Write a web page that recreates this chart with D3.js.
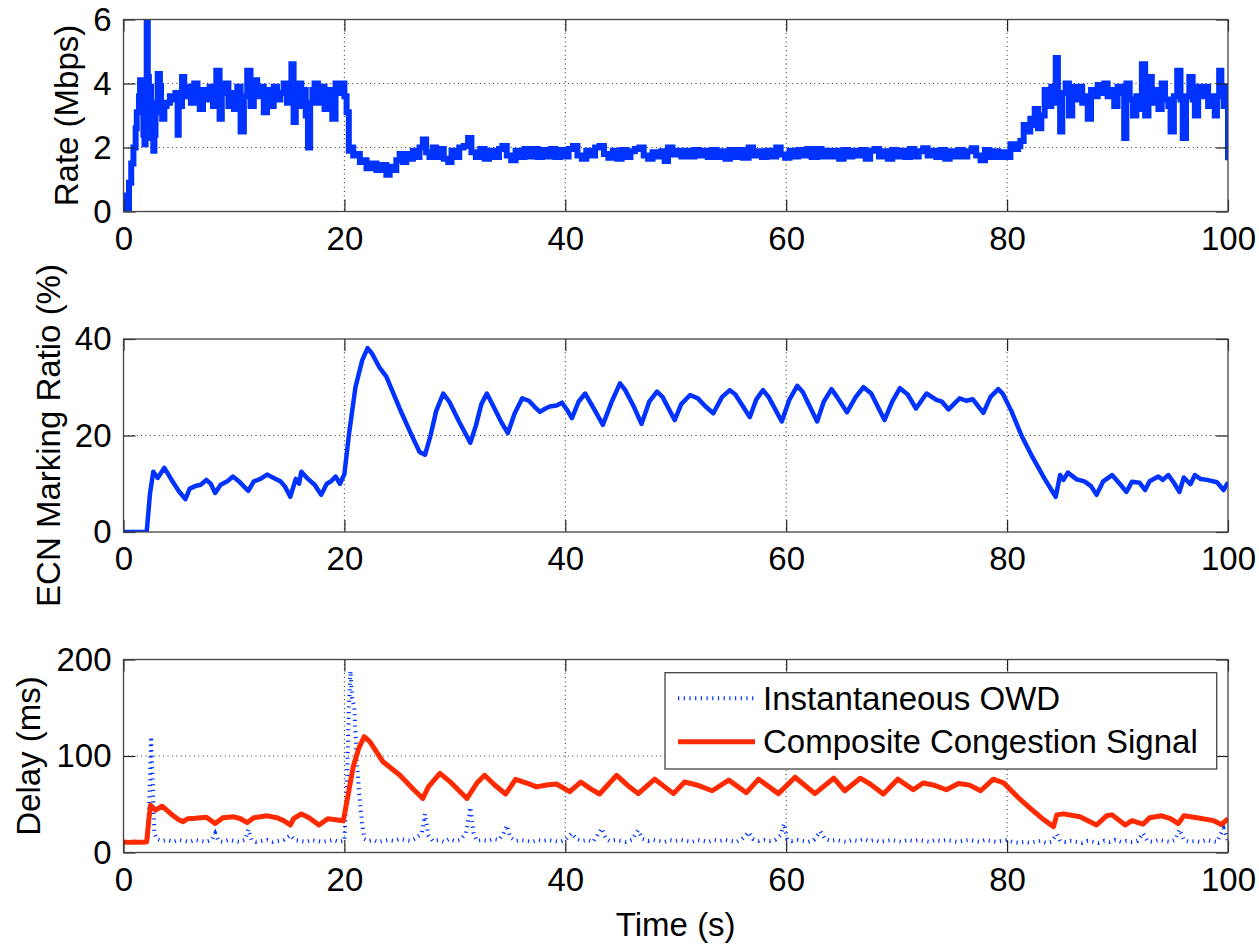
<!DOCTYPE html>
<html>
<head>
<meta charset="utf-8">
<script src="https://cdn.jsdelivr.net/npm/d3@7"></script>
<style>
  body { margin: 0; background: #fff; }
  svg { display: block; font-family: "Liberation Sans", Arial, Helvetica, sans-serif; }
</style>
</head>
<body>
<svg id="chart" width="1259" height="946"></svg>
<script>
// ---- data ----
const xTicks = [0, 20, 40, 60, 80, 100];
const rateTicks = [0, 2, 4, 6];
const ecnTicks = [0, 20, 40];
const delayTicks = [0, 100, 200];
const legendLabels = ["Instantaneous OWD", "Composite Congestion Signal"];

// sending rate (Mbps) : [time s, value]
const rateData = [
  [0,0],[0.1,0.5],[0.3,0],[0.5,0.9],[0.7,1.5],[0.9,2.0],[1.1,2.6],[1.2,3.1],[1.4,3.6],[1.5,4.1],
  [1.6,3.2],[1.7,3.9],[1.8,2.4],[1.9,2.1],[2.0,3.8],[2.1,6.5],[2.2,4.2],[2.3,2.6],[2.4,3.9],[2.5,2.3],
  [2.6,3.1],[2.7,1.9],[2.8,2.4],[2.9,3.4],[3.1,4.3],[3.3,3.9],[3.4,3.1],[3.5,2.9],[3.7,3.3],[3.9,3.4],
  [4.2,3.6],[4.5,3.5],[4.7,3.7],[4.9,2.4],[5.0,3.3],[5.3,4.2],[5.5,3.6],[5.8,3.9],[6.1,3.4],[6.4,4.0],
  [6.7,3.6],[6.9,3.2],[7.2,3.8],[7.5,3.5],[7.8,3.9],[8.1,3.3],[8.4,4.4],[8.7,2.9],[8.9,3.7],[9.2,4.0],
  [9.5,3.3],[9.8,3.7],[10.0,3.2],[10.3,3.9],[10.6,2.5],[10.9,3.6],[11.2,4.4],[11.5,3.3],[11.8,4.1],[12.1,3.6],
  [12.4,3.9],[12.7,3.1],[13.0,3.8],[13.3,3.3],[13.6,3.9],[13.9,3.5],[14.2,3.7],[14.5,4.0],[14.8,3.4],[15.2,4.6],
  [15.4,2.8],[15.6,3.6],[15.9,4.0],[16.1,3.3],[16.3,3.8],[16.5,3.0],[16.7,2.0],[16.9,3.4],[17.1,3.8],[17.3,4.0],
  [17.6,3.4],[17.9,3.9],[18.2,3.2],[18.5,3.8],[18.9,2.9],[19.2,4.0],[19.5,3.7],[19.8,4.0],[20.0,3.6],[20.2,3.1],
  [20.4,1.9],[20.6,2.0],[20.8,1.75],[21.1,1.8],[21.4,1.55],[21.7,1.6],[22.0,1.35],[22.4,1.5],[22.9,1.3],[23.3,1.45],
  [23.8,1.15],[24.1,1.4],[24.4,1.3],[24.7,1.6],[25.0,1.8],[25.3,1.55],[25.6,1.8],[25.9,1.65],[26.2,1.9],[26.5,1.7],
  [26.8,2.0],[27.1,2.25],[27.4,1.85],[27.7,1.7],[28.0,2.0],[28.3,1.7],[28.6,1.95],[29.0,1.65],[29.4,1.55],[29.7,1.9],
  [30.0,1.7],[30.4,2.0],[30.8,2.05],[31.2,2.3],[31.5,1.85],[31.9,1.7],[32.3,1.95],[32.7,1.65],[33.1,1.9],[33.6,1.7],
  [34.0,1.95],[34.3,2.05],[34.7,1.75],[35.1,1.6],[35.5,1.9],[35.9,1.7],[36.3,1.95],[36.7,1.72],[37.1,1.95],[37.5,1.7],
  [37.9,1.92],[38.3,1.72],[38.7,1.95],[39.1,1.7],[39.5,1.92],[39.9,1.72],[40.3,1.95],[40.7,2.05],[41.1,1.75],[41.5,1.65],
  [41.9,1.9],[42.3,1.75],[42.7,2.0],[43.1,2.05],[43.5,1.8],[43.9,1.68],[44.3,1.9],[44.7,1.65],[45.1,1.92],[45.5,1.7],
  [45.9,1.88],[46.3,1.95],[46.7,2.0],[47.1,1.75],[47.5,1.65],[47.9,1.85],[48.3,1.72],[48.7,1.88],[49.0,1.58],[49.3,2.0],
  [49.7,1.78],[50.1,1.9],[50.5,1.72],[50.9,1.9],[51.3,1.72],[51.7,1.92],[52.1,1.75],[52.5,1.9],[52.9,1.7],[53.3,1.92],
  [53.7,1.7],[54.1,1.88],[54.5,1.65],[54.9,1.92],[55.3,1.7],[55.7,1.92],[56.1,1.68],[56.6,2.0],[57.0,1.75],[57.4,1.88],
  [57.8,1.7],[58.2,1.9],[58.6,1.72],[59.1,2.0],[59.5,1.78],[59.9,1.68],[60.3,1.9],[60.7,1.72],[61.1,1.92],[61.5,1.75],
  [61.9,1.95],[62.3,1.7],[62.8,1.95],[63.2,1.72],[63.6,1.9],[64.0,1.72],[64.4,1.9],[64.8,1.65],[65.2,1.92],[65.6,1.72],
  [66.0,1.9],[66.4,1.75],[66.8,1.92],[67.2,1.65],[67.6,1.9],[68.0,1.95],[68.4,1.72],[68.8,1.88],[69.2,1.65],[69.6,1.92],
  [70.0,1.72],[70.4,1.9],[70.8,1.7],[71.2,1.95],[71.6,1.72],[72.0,1.88],[72.4,1.98],[72.8,1.75],[73.2,1.9],[73.6,1.7],
  [74.0,1.92],[74.4,1.65],[74.8,1.88],[75.2,1.72],[75.6,1.92],[76.0,1.72],[76.4,1.88],[76.8,1.98],[77.2,1.75],[77.6,1.6],
  [78.0,1.92],[78.4,1.7],[78.8,1.88],[79.2,1.7],[79.6,1.85],[80.0,1.7],[80.3,2.1],[80.7,1.95],[81.0,2.05],[81.2,2.2],
  [81.5,2.7],[81.8,2.5],[82.1,2.9],[82.4,2.7],[82.5,3.2],[82.8,2.6],[83.1,3.0],[83.4,3.8],[83.7,3.3],[84.0,3.9],
  [84.2,3.4],[84.4,4.8],[84.6,3.6],[84.8,2.5],[85.0,3.7],[85.3,4.0],[85.6,3.0],[85.9,3.9],[86.2,3.5],[86.5,3.9],
  [86.8,3.4],[87.1,3.6],[87.3,2.9],[87.6,3.8],[87.9,3.6],[88.2,3.95],[88.5,3.7],[88.8,4.0],[89.1,3.6],[89.4,3.8],
  [89.7,3.3],[90.0,3.9],[90.4,3.7],[90.6,2.3],[90.8,4.0],[91.1,3.5],[91.4,3.0],[91.7,3.6],[92.0,3.2],[92.2,4.6],
  [92.5,3.0],[92.8,4.2],[93.1,3.4],[93.4,3.8],[93.7,3.2],[94.0,4.0],[94.3,3.5],[94.6,3.3],[94.8,2.5],[95.1,3.6],
  [95.4,4.4],[95.7,3.5],[95.9,2.3],[96.2,3.6],[96.5,4.2],[96.8,3.5],[97.0,3.0],[97.3,3.9],[97.6,3.6],[97.9,3.9],
  [98.2,3.3],[98.5,3.6],[98.8,3.0],[99.0,3.6],[99.2,4.4],[99.4,3.9],[99.6,3.3],[99.8,3.9],[100,1.6]
];

// ECN marking ratio (%)
const ecnData = [
  [0,0],[2.1,0],[2.4,8],[2.7,12.5],[3.1,11.2],[3.7,13.3],[4.3,11],[5.0,8.5],[5.6,6.8],[6.0,9],
  [6.6,9.6],[7.0,9.8],[7.5,10.8],[7.9,10],[8.3,8.1],[8.8,9.8],[9.4,10.5],[9.9,11.5],[10.5,10.4],[11.3,8.5],
  [11.8,10.5],[12.4,11],[13.0,11.9],[13.6,11.2],[14.2,10.5],[14.6,9.5],[15.1,7.3],[15.6,11],[15.9,10],[16.1,12.5],
  [16.7,11],[17.3,9.8],[17.9,7.7],[18.4,10],[18.8,10.5],[19.2,11.5],[19.6,10],[20.0,12],[20.4,20],[21.0,30],
  [21.6,35.5],[22.1,38.1],[22.5,37],[23.2,34],[23.8,32.2],[25.0,25.6],[26.0,20.5],[26.8,16.6],[27.3,16.0],[27.8,20],
  [28.3,25],[28.95,28.7],[29.5,27],[30.4,22.8],[31.4,18.5],[31.9,22],[32.4,26.5],[32.9,28.7],[33.5,26],[34.2,22.8],
  [34.8,20.5],[35.4,24.5],[36.1,27.7],[36.7,27.2],[37.2,26],[37.7,24.9],[38.2,25.6],[38.6,26.0],[39.2,26.2],[39.7,26.8],
  [40.1,25.5],[40.6,23.6],[41.2,27],[41.8,28.7],[42.6,25.5],[43.4,22.2],[44.2,27],[44.95,30.8],[45.4,29.5],[46.2,26],
  [46.9,22.4],[47.6,27],[48.3,29.1],[48.8,28],[49.9,23.2],[50.5,26.5],[51.3,28.4],[52.0,27.7],[52.7,26],[53.4,24.6],
  [54.2,28],[54.9,29.4],[55.4,28.5],[56.7,23.8],[57.3,27.5],[57.9,29.4],[58.4,28],[59.6,22.9],[60.3,27.5],[61.0,30.3],
  [61.5,29],[62.8,22.9],[63.4,27],[64.1,29.6],[64.6,28],[65.5,24.8],[66.3,28],[67.0,30.0],[67.7,28.7],[68.9,23.2],
  [69.6,27],[70.3,29.8],[71.0,28.5],[71.75,25.6],[72.7,28.7],[73.6,27.4],[74.1,27],[74.7,25.4],[75.7,27.7],[76.3,27.2],
  [76.9,27.5],[77.85,24.7],[78.5,28],[79.2,29.6],[79.6,28.7],[80.4,25],[81.3,20],[82.3,15.5],[83.4,11],[84.4,7.3],
  [84.8,11.8],[85.1,10.8],[85.5,12.3],[86.3,10.9],[87.0,10.5],[87.6,9.5],[88.1,7.7],[88.7,10.5],[89.5,11.8],[90.2,10.0],
  [90.8,8.3],[91.3,10.4],[92.0,10.2],[92.5,8.7],[92.9,10.5],[93.7,11.5],[94.1,10.8],[94.6,11.8],[95.1,10.2],[95.6,8.3],
  [96.0,11.3],[96.6,9.9],[97.0,11.8],[97.5,11],[98.1,10.8],[99.0,10.3],[99.6,8.7],[100,10.3]
];

// instantaneous one-way delay (ms)
const owdData = [
  [0,10],[0.5,11],[1,10],[1.5,11],[2.0,10],[2.2,14],[2.35,60],[2.5,120],[2.65,70],[2.8,20],
  [3.0,14],[3.5,12],[4,13],[4.5,11],[5,13],[5.5,12],[6,11],[6.5,13],[7,12],[7.5,11],
  [8.0,13],[8.3,20],[8.6,12],[9,11],[9.5,13],[10,12],[10.5,11],[11,13],[11.3,24],[11.6,13],
  [12,11],[12.5,12],[13,13],[13.5,11],[14,12],[14.5,13],[15.1,18],[15.5,13],[16,12],[16.5,11],
  [17,13],[17.5,12],[18,11],[18.5,12],[19,13],[19.5,11],[20.0,12],[20.2,60],[20.4,150],[20.55,188],
  [20.7,160],[20.9,150],[21.1,100],[21.35,60],[21.6,30],[21.8,14],[22.2,12],[22.6,13],[23,11],[23.5,12],
  [24,13],[24.5,12],[25,14],[25.5,13],[26,12],[26.5,15],[27.0,20],[27.3,40],[27.6,18],[28,12],
  [28.5,13],[29,11],[29.5,14],[30,12],[30.5,13],[31.0,20],[31.4,47],[31.7,20],[32,12],[32.5,13],
  [33,12],[33.5,14],[34.0,13],[34.4,20],[34.7,28],[35.0,16],[35.5,12],[36,13],[36.5,12],[37,11],
  [37.5,13],[38,12],[38.5,13],[39,12],[39.5,11],[40.0,13],[40.6,20],[41,14],[41.5,12],[42,13],
  [42.5,11],[43.3,25],[43.7,14],[44,12],[44.5,13],[45,12],[45.5,11],[46,13],[46.6,23],[47,14],
  [47.5,12],[48,13],[48.5,12],[49,11],[49.5,13],[50,12],[50.5,13],[51,12],[51.5,11],[52,13],
  [52.5,12],[53,11],[53.5,13],[54,12],[54.5,13],[55,12],[55.5,11],[56.0,14],[56.6,21],[57,14],
  [57.5,12],[58,13],[58.5,12],[59,13],[59.5,18],[59.8,30],[60.1,14],[60.5,12],[61,13],[61.5,12],
  [62,11],[62.5,13],[63.1,22],[63.5,14],[64,12],[64.5,13],[65,12],[65.5,11],[66,13],[66.5,12],
  [67,14],[67.5,12],[68,13],[68.5,11],[69,12],[69.5,13],[70,12],[70.5,11],[71,13],[71.5,12],
  [72,13],[72.5,12],[73,11],[73.5,13],[74,12],[74.5,13],[75,12],[75.5,11],[76,12],[76.5,13],
  [77,12],[77.5,11],[78,13],[78.5,12],[79,11],[79.5,12],[80,13],[80.5,11],[81,10],[81.5,11],
  [82,10],[82.5,11],[83,12],[83.5,10],[84,11],[84.5,19],[84.8,12],[85.3,11],[85.8,12],[86.3,11],
  [86.8,10],[87.3,12],[87.8,11],[88.3,10],[88.8,12],[89.3,11],[89.8,13],[90.3,11],[90.8,12],[91.3,11],
  [91.8,12],[92.3,20],[92.7,12],[93.2,11],[93.7,13],[94.2,12],[94.7,11],[95.2,13],[95.6,24],[96.0,13],
  [96.5,11],[97,12],[97.5,11],[98,13],[98.5,12],[99,11],[99.6,25],[100,12]
];

// composite congestion signal (ms)
const ccsData = [
  [0,11],[0.5,10.5],[1,11],[1.5,10.5],[2.1,11],[2.3,35],[2.45,49],[2.9,44],[3.5,48],[4.3,40],
  [5.0,34],[5.4,32],[5.8,35],[6.5,35.5],[7.5,36.5],[8.3,30],[9.0,36],[10.0,37],[10.6,35],[11.2,31],
  [11.8,36],[13.0,38],[13.9,36],[14.5,33],[15.1,28.5],[15.4,35],[16.1,40],[16.8,36],[17.7,28.5],[18.5,35],
  [19.2,34],[19.9,33],[20.1,45],[20.8,89],[21.3,108],[21.8,120],[22.3,115],[23.5,94],[25.0,80.3],[26.2,66],
  [27.1,56],[27.6,68],[28.65,82],[29.5,74],[31.1,56],[32.0,72],[32.7,80],[33.6,70],[34.6,60.6],[35.5,75.8],
  [36.5,72],[37.4,68],[38.3,70],[39.2,71],[40.4,63],[41.4,73],[42.3,66],[43.1,60.6],[44.65,80],[45.6,70],
  [46.6,61],[48.1,76],[49.8,61],[50.8,73],[51.9,70],[53.3,64],[54.8,75],[56.4,62],[57.5,76],[59.3,61],
  [60.8,78],[62.6,61],[64.3,77],[65.3,64],[66.7,77],[67.6,71],[68.8,60.6],[70.1,76],[71.5,65],[72.4,72],
  [73.3,70],[74.5,65],[75.6,71.5],[76.6,69.8],[77.6,64],[78.75,76],[79.7,72],[81.0,57],[82.1,45.8],[83.2,35],
  [84.2,26.8],[84.5,39],[85.1,40],[86.6,37],[88.1,28.5],[89.0,38],[89.5,39],[90.7,28.5],[91.3,33],[92.3,29.3],
  [92.9,36],[94.0,38],[94.8,35],[95.5,30],[96.0,38],[97.2,36],[98.7,33],[99.4,29],[100,35]
];

// ---- layout ----
const plotLeft = 123.5, plotRight = 1228;
const fontSize = 33;
const tickLen = 12;
const blue = "#0033ff", red = "#ff2a00";

const svg = d3.select("#chart");
const x = d3.scaleLinear().domain([0, 100]).range([plotLeft, plotRight]);

const panels = [
  {id: "rate",  top: 19.5,  bottom: 211.5, domain: [0, 6],   ticks: rateTicks,  label: "Rate (Mbps)",           labelX: 78},
  {id: "ecn",   top: 339,   bottom: 532,   domain: [0, 40],  ticks: ecnTicks,   label: "ECN Marking Ratio (%)", labelX: 60},
  {id: "delay", top: 659.5, bottom: 852.5, domain: [0, 200], ticks: delayTicks, label: "Delay (ms)",            labelX: 40}
];

function drawPanel(p) {
  const y = d3.scaleLinear().domain(p.domain).range([p.bottom, p.top]);
  const g = svg.append("g").attr("class", "panel-" + p.id);

  // clip for data lines
  svg.append("clipPath").attr("id", "clip-" + p.id)
    .append("rect")
    .attr("x", plotLeft).attr("y", p.top)
    .attr("width", plotRight - plotLeft).attr("height", p.bottom - p.top);

  // dotted grid
  const grid = g.append("g").attr("class", "grid")
    .attr("stroke", "#333").attr("stroke-width", 1.1).attr("stroke-dasharray", "1,3.4");
  grid.selectAll("line.vx").data(xTicks.filter(d => d > 0 && d < 100)).join("line")
    .attr("x1", d => x(d)).attr("x2", d => x(d))
    .attr("y1", p.top).attr("y2", p.bottom);
  grid.selectAll("line.hy").data(p.ticks.filter(d => d > p.domain[0] && d < p.domain[1])).join("line")
    .attr("x1", plotLeft).attr("x2", plotRight)
    .attr("y1", d => y(d)).attr("y2", d => y(d));

  p.y = y;
  p.g = g;
  p.lines = g.append("g").attr("clip-path", `url(#clip-${p.id})`);
  return p;
}

function finishPanel(p) {
  const y = p.y, g = p.g;
  const axes = g.append("g").attr("class", "axes");
  const fmt = d3.format("d");

  // bottom axis with labels, ticks pointing inward
  const xb = axes.append("g")
    .attr("transform", `translate(0,${p.bottom})`)
    .call(d3.axisBottom(x).tickValues(xTicks).tickFormat(fmt).tickSizeInner(-tickLen).tickSizeOuter(0).tickPadding(15));
  // top axis, ticks only
  const xt = axes.append("g")
    .attr("transform", `translate(0,${p.top})`)
    .call(d3.axisTop(x).tickValues(xTicks).tickSizeInner(-tickLen).tickSizeOuter(0).tickFormat(""));
  // left axis with labels
  const yl = axes.append("g")
    .attr("transform", `translate(${plotLeft},0)`)
    .call(d3.axisLeft(y).tickValues(p.ticks).tickFormat(fmt).tickSizeInner(-tickLen).tickSizeOuter(0).tickPadding(12));
  // right axis, ticks only
  const yr = axes.append("g")
    .attr("transform", `translate(${plotRight},0)`)
    .call(d3.axisRight(y).tickValues(p.ticks).tickSizeInner(-tickLen).tickSizeOuter(0).tickFormat(""));

  [xb, xt, yl, yr].forEach(a => {
    a.select(".domain").remove();
    a.attr("font-size", fontSize).attr("font-family", null);
    a.selectAll(".tick line").attr("stroke", "#222").attr("stroke-width", 1.2);
    a.selectAll(".tick text").attr("fill", "#000");
  });

  // frame
  axes.append("rect")
    .attr("x", plotLeft).attr("y", p.top)
    .attr("width", plotRight - plotLeft).attr("height", p.bottom - p.top)
    .attr("fill", "none").attr("stroke", "#444").attr("stroke-width", 1.3);

  // y label
  g.append("text")
    .attr("transform", `translate(${p.labelX},${(p.top + p.bottom) / 2}) rotate(-90)`)
    .attr("text-anchor", "middle")
    .attr("font-size", fontSize)
    .attr("fill", "#000")
    .text(p.label);
}

panels.forEach(drawPanel);

const lineFor = (p, curve) => d3.line()
  .x(d => x(d[0]))
  .y(d => p.y(d[1]))
  .curve(curve || d3.curveLinear);

// rate
panels[0].lines.append("path")
  .datum(rateData)
  .attr("d", lineFor(panels[0], d3.curveStepAfter))
  .attr("fill", "none").attr("stroke", blue).attr("stroke-width", 6)
  .attr("stroke-linejoin", "miter");

// ECN
panels[1].lines.append("path")
  .datum(ecnData)
  .attr("d", lineFor(panels[1]))
  .attr("fill", "none").attr("stroke", blue).attr("stroke-width", 4.5)
  .attr("stroke-linejoin", "round");

// delay: OWD (dotted) + composite signal
const owdStyle = {stroke: blue, width: 4, dash: "1.2,4.5"};
panels[2].lines.append("path")
  .datum(owdData)
  .attr("d", lineFor(panels[2]))
  .attr("fill", "none").attr("stroke", owdStyle.stroke).attr("stroke-width", owdStyle.width)
  .attr("stroke-dasharray", owdStyle.dash);
panels[2].lines.append("path")
  .datum(ccsData)
  .attr("d", lineFor(panels[2]))
  .attr("fill", "none").attr("stroke", red).attr("stroke-width", 5)
  .attr("stroke-linejoin", "round");

panels.forEach(finishPanel);

// x label
svg.append("text")
  .attr("x", (plotLeft + plotRight) / 2).attr("y", 936)
  .attr("text-anchor", "middle").attr("font-size", fontSize)
  .text("Time (s)");

// legend
const lg = svg.append("g").attr("transform", "translate(665,672.7)");
lg.append("rect").attr("width", 551.7).attr("height", 96.3)
  .attr("fill", "#fff").attr("stroke", "#444").attr("stroke-width", 1.3);
const rows = lg.selectAll("g.row").data(legendLabels).join("g")
  .attr("transform", (d, i) => `translate(0,${i === 0 ? 25.5 : 69})`);
rows.append("line")
  .attr("x1", 13).attr("x2", 90).attr("y1", 0).attr("y2", 0)
  .attr("stroke", (d, i) => i === 0 ? blue : red)
  .attr("stroke-width", (d, i) => i === 0 ? owdStyle.width : 5)
  .attr("stroke-dasharray", (d, i) => i === 0 ? owdStyle.dash : null);
rows.append("text")
  .attr("x", 98).attr("y", 0).attr("dy", "0.35em")
  .attr("font-size", fontSize)
  .text(d => d);
</script>
</body>
</html>
